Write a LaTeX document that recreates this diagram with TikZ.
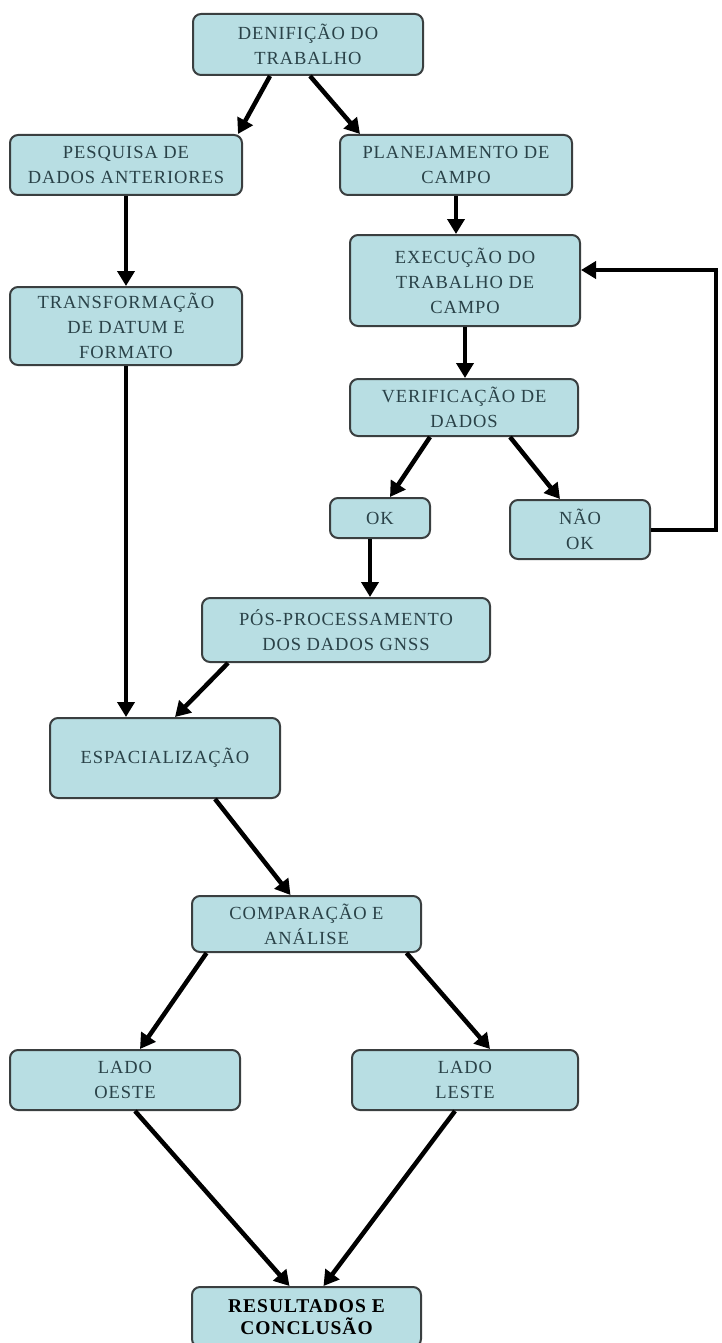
\documentclass[tikz,border=0pt]{standalone}
\usepackage{fontspec}
\setmainfont{Liberation Serif}[LetterSpace=5]
\usetikzlibrary{arrows.meta}
\definecolor{boxfill}{HTML}{B8DEE3}
\definecolor{boxline}{HTML}{3A3F40}
\definecolor{boxtext}{HTML}{2A4248}
\tikzset{
  box/.style={draw=boxline, line width=2pt, fill=boxfill, rounded corners=8pt,
    align=center, inner sep=0pt, text=boxtext,
    font=\fontsize{18.5}{25}\selectfont},
  arr/.style={line width=4.5pt, -{Triangle[length=15pt,width=17pt]}},
  ln/.style={line width=4.5pt}
}
\newcommand{\bx}[6]{% name, x1,y1,x2,y2, text
  \node[box, minimum width={(#4-#2)*1pt}, minimum height={(#5-#3)*1pt}] (#1) at ({(#2+#4)/2}, {-(#3+#5)/2}) {#6};}
\begin{document}
\begin{tikzpicture}[x=1pt,y=1pt]
\useasboundingbox (0,0) rectangle (721,-1343);
\bx{def}{193}{14}{423}{75}{DENIFIÇÃO DO\\TRABALHO}
\bx{pes}{10}{135}{242}{195}{PESQUISA DE\\DADOS ANTERIORES}
\bx{pla}{340}{135}{572}{195}{PLANEJAMENTO DE\\CAMPO}
\bx{exe}{350}{235}{580}{326}{EXECUÇÃO DO\\TRABALHO DE\\CAMPO}
\bx{tra}{10}{287}{242}{365}{TRANSFORMAÇÃO\\DE DATUM E\\FORMATO}
\bx{ver}{350}{379}{578}{436}{VERIFICAÇÃO DE\\DADOS}
\bx{ok}{330}{498}{430}{538}{OK}
\bx{nok}{510}{500}{650}{559}{NÃO\\OK}
\bx{pos}{202}{598}{490}{662}{PÓS-PROCESSAMENTO\\DOS DADOS GNSS}
\bx{esp}{50}{718}{280}{798}{ESPACIALIZAÇÃO}
\bx{com}{192}{896}{421}{952}{COMPARAÇÃO E\\ANÁLISE}
\bx{oes}{10}{1050}{240}{1110}{LADO\\OESTE}
\bx{les}{352}{1050}{578}{1110}{LADO\\LESTE}
\node[box, minimum width=229pt, minimum height=60pt, text=black, font=\fontsize{19.5}{22}\selectfont\bfseries] (res) at (306.5,-1317) {RESULTADOS E\\CONCLUSÃO};
% connectors
\draw[arr] ([xshift=-38pt]def.south) -- ([xshift=112pt]pes.north);
\draw[arr] ([xshift=2pt]def.south) -- ([xshift=-96pt]pla.north);
\draw[arr] (pes.south) -- (tra.north);
\draw[arr] (pla.south) -- (pla.south |- exe.north);
\draw[arr] (exe.south) -- (exe.south |- ver.north);
\draw[arr] ([xshift=-34pt]ver.south) -- ([xshift=10pt]ok.north);
\draw[arr] ([xshift=46pt]ver.south) -- ([xshift=-20pt]nok.north);
\draw[arr] ([xshift=-10pt]ok.south) -- ([xshift=-10pt]ok.south |- pos.north);
\draw[arr] ([xshift=-118pt]pos.south) -- ([xshift=10pt]esp.north);
\draw[arr] (tra.south) -- (tra.south |- esp.north);
\draw[arr] ([xshift=50pt]esp.south) -- ([xshift=-16pt]com.north);
\draw[arr] ([xshift=-100pt]com.south) -- ([xshift=15pt]oes.north);
\draw[arr] ([xshift=100pt]com.south) -- ([xshift=25pt]les.north);
\draw[arr] ([xshift=10pt]oes.south) -- ([xshift=-17pt]res.north);
\draw[arr] ([xshift=-10pt]les.south) -- ([xshift=17pt]res.north);
\coordinate (fb1) at (716, -530);
\coordinate (fb2) at (716, -270);
\draw[ln] (nok.east |- 0,-530) -- (fb1) -- (fb2);
\draw[arr] ([xshift=2.25pt]fb2) -- (exe.east |- fb2);
\end{tikzpicture}
\end{document}
